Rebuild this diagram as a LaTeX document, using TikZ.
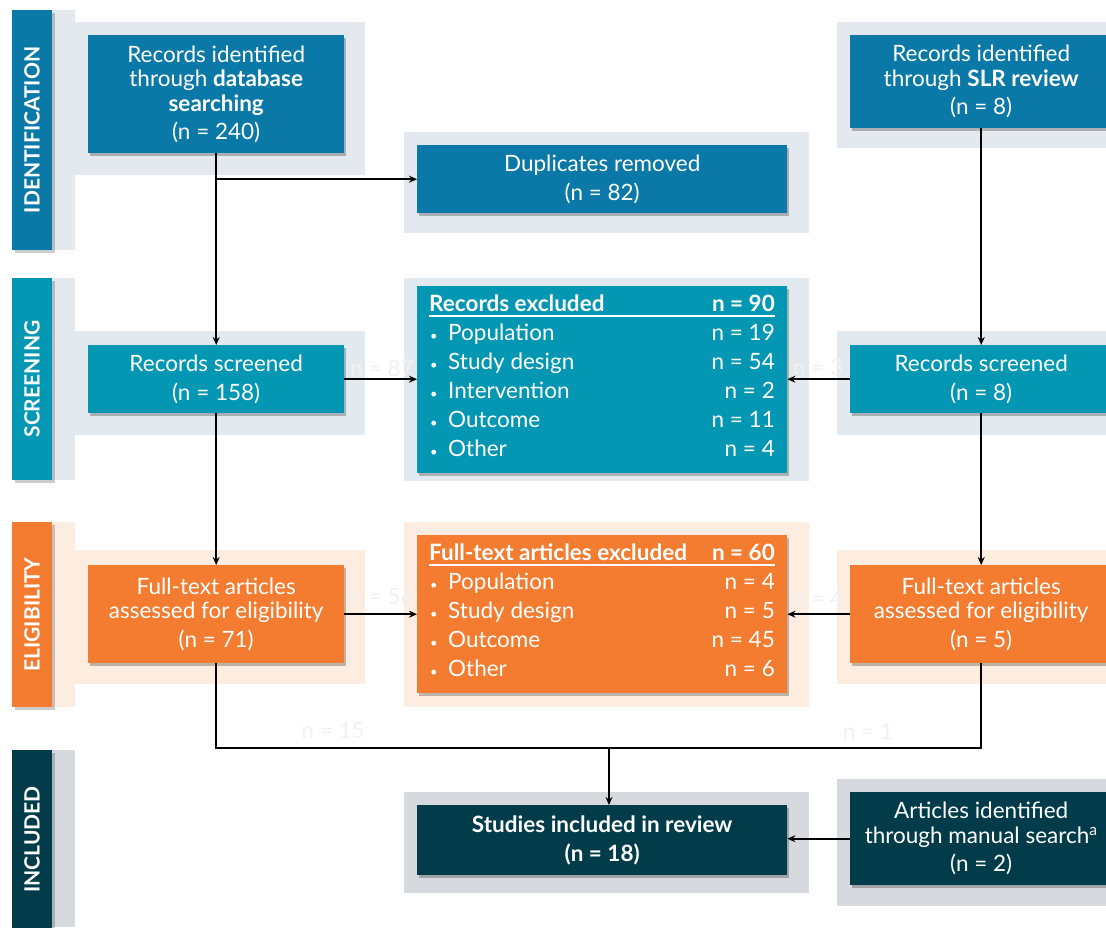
\documentclass[tikz,border=0pt]{standalone}
\usepackage{fontspec}
\setmainfont{Lato}
\usetikzlibrary{shadows,arrows.meta}
\definecolor{cid}{HTML}{0B79A8}
\definecolor{cscr}{HTML}{0397B3}
\definecolor{cel}{HTML}{F47C30}
\definecolor{cin}{HTML}{023C4B}
\definecolor{bgid}{HTML}{E4E9EF}
\definecolor{bgscr}{HTML}{E2EAEF}
\definecolor{bgel}{HTML}{FDEDE1}
\definecolor{bgin}{HTML}{D6DADF}
\definecolor{faint}{HTML}{F1F1F1}
\tikzset{
  box/.style={anchor=north west, inner sep=0pt, text=white, align=center,
    font=\fontsize{22.5}{24.5}\selectfont,
    drop shadow={shadow xshift=2pt,shadow yshift=-3pt,opacity=0.25,fill=black}},
  phase/.style={rotate=90, inner sep=0pt, text=white, minimum height=40pt,
    font=\fontsize{21}{24}\selectfont\bfseries,
    drop shadow={shadow xshift=3pt,shadow yshift=-3pt,opacity=0.2,fill=black}},
  arr/.style={-{Stealth[length=8pt,width=7pt]}, line width=1.8pt, black},
  ln/.style={line width=1.8pt, black},
  li/.style={inner sep=0pt, text=white, font=\fontsize{22.5}{24.5}\selectfont, text height=16pt, text depth=4pt},
  fl/.style={inner sep=0pt, text=faint, font=\fontsize{22.5}{24.5}\selectfont},
}
\newcommand{\smbul}{{\fontsize{13}{13}\selectfont\textbullet}}
\begin{document}
\begin{tikzpicture}[x=1pt,y=-1pt]
\useasboundingbox (0,0) rectangle (1106,927);
% backgrounds
\fill[bgid] (52,10) rectangle (75,250);
\fill[bgid] (75,22) rectangle (365,175);
\fill[bgid] (404,132) rectangle (809,233);
\fill[bgid] (837,22) rectangle (1106,148);
\fill[bgscr] (52,278) rectangle (75,480);
\fill[bgscr] (75,331) rectangle (365,435);
\fill[bgscr] (404,278) rectangle (809,481);
\fill[bgscr] (837,331) rectangle (1106,435);
\fill[bgel] (52,522) rectangle (75,707);
\fill[bgel] (75,550) rectangle (365,684);
\fill[bgel] (404,522) rectangle (809,707);
\fill[bgel] (837,550) rectangle (1106,684);
\fill[bgin] (52,750) rectangle (75,927);
\fill[bgin] (404,792) rectangle (809,893);
\fill[bgin] (837,779) rectangle (1106,906);
% phase bars
\node[phase, fill=cid, minimum width=240pt] (pid) at (32,130) {IDENTIFICATION};
\node[phase, fill=cscr, minimum width=202pt] (pscr) at (32,379) {SCREENING};
\node[phase, fill=cel, minimum width=185pt] (pel) at (32,614.5) {ELIGIBILITY};
\node[phase, fill=cin, minimum width=180pt] (pin) at (32,839.5) {INCLUDED};
% boxes
\node[box, fill=cid, minimum width=256pt, minimum height=118pt] (dbs) at (88,35)
  {Records identified\\through \textbf{database}\\\textbf{searching}\\[4pt](n = 240)};
\node[box, fill=cid, minimum width=370pt, minimum height=68pt] (dup) at (417,145)
  {Duplicates removed\\[4pt](n = 82)};
\node[box, fill=cid, minimum width=262pt, minimum height=93pt] (slr) at (850,35)
  {Records identified\\through \textbf{SLR review}\\[4pt](n = 8)};
\node[box, fill=cscr, minimum width=256pt, minimum height=68pt] (scr1) at (88,345)
  {Records screened\\[4pt](n = 158)};
\node[box, fill=cscr, minimum width=370pt, minimum height=187pt] (ex1) at (417,286) {};
\node[box, fill=cscr, minimum width=262pt, minimum height=68pt] (scr2) at (850,345)
  {Records screened\\[4pt](n = 8)};
\node[box, fill=cel, minimum width=256pt, minimum height=98pt] (el1) at (88,565)
  {Full-text articles\\assessed for eligibility\\[4pt](n = 71)};
\node[box, fill=cel, minimum width=370pt, minimum height=158pt] (ex2) at (417,535) {};
\node[box, fill=cel, minimum width=262pt, minimum height=98pt] (el2) at (850,565)
  {Full-text articles\\assessed for eligibility\\[4pt](n = 5)};
\node[box, fill=cin, minimum width=370pt, minimum height=70pt] (inc) at (417,805)
  {\textbf{Studies included in review}\\[4pt]\textbf{(n = 18)}};
\node[box, fill=cin, minimum width=262pt, minimum height=93pt] (man) at (850,792)
  {Articles identified\\through manual search\textsuperscript{a}\\[4pt](n = 2)};
% excluded lists
\node[li, anchor=west] (h1) at (429,305) {\textbf{Records excluded}};
\node[li, anchor=east] (h1n) at (775,305) {\textbf{n = 90}};
\draw[white, line width=1.6pt] (h1.west |- 0,316) -- (h1n.east |- 0,316);
\foreach \t/\n [count=\i] in {Population/19, Study design/54, Intervention/2, Outcome/11, Other/4} {
  \node[li, anchor=center] (b1\i) at (434,305+29*\i) {\smbul};
  \node[li, anchor=west] (a1\i) at (448,305+29*\i) {\t};
  \node[li, anchor=east] (n1\i) at (775,305+29*\i) {n = \n};
}
\node[li, anchor=west] (h2) at (429,554) {\textbf{Full-text articles excluded}};
\node[li, anchor=east] (h2n) at (775,554) {\textbf{n = 60}};
\draw[white, line width=1.6pt] (h2.west |- 0,565) -- (h2n.east |- 0,565);
\foreach \t/\n [count=\i] in {Population/4, Study design/5, Outcome/45, Other/6} {
  \node[li, anchor=center] (b2\i) at (434,554+29*\i) {\smbul};
  \node[li, anchor=west] (a2\i) at (448,554+29*\i) {\t};
  \node[li, anchor=east] (n2\i) at (775,554+29*\i) {n = \n};
}
% faint labels
\node[fl] (f87) at (382,368) {n = 87};
\node[fl] (f3) at (818,367) {n = 3};
\node[fl] (f56) at (382,597) {n = 56};
\node[fl] (f4) at (818,598) {n = 4};
\node[fl] (f15) at (333,731) {n = 15};
\node[fl] (f1) at (868,731) {n = 1};
% connectors
\coordinate (m) at (609,748);
\draw[arr] (dbs.south) -- (scr1.north);
\draw[arr] (dbs.south |- dup.west) -- (dup.west);
\draw[arr] (slr.south) -- (scr2.north);
\draw[arr] (scr1.east) -- (scr1.east -| ex1.west);
\draw[arr] (scr2.west) -- (scr2.west -| ex1.east);
\draw[arr] (scr1.south) -- (el1.north);
\draw[arr] (scr2.south) -- (el2.north);
\draw[arr] (el1.east) -- (el1.east -| ex2.west);
\draw[arr] (el2.west) -- (el2.west -| ex2.east);
\draw[ln] (el1.south) |- (m) -| (el2.south);
\draw[arr] (m) -- (m |- inc.north);
\draw[arr] (man.west) -- (man.west -| inc.east);
\end{tikzpicture}
\end{document}
